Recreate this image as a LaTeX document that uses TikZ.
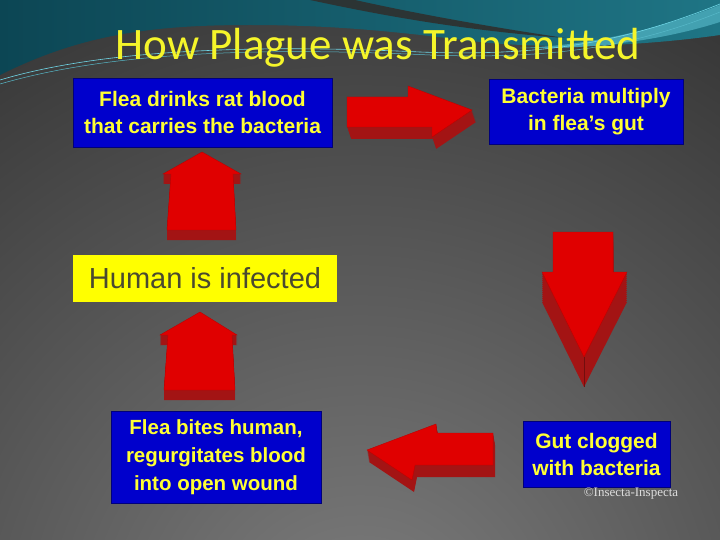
\documentclass[tikz,border=0pt]{standalone}
\usepackage{fontspec}
\setmainfont{Liberation Sans}
\newfontfamily\titlefont{Carlito}
\newfontfamily\credfont{Liberation Serif}
\definecolor{boxblue}{HTML}{0000CC}
\definecolor{txtyellow}{HTML}{FFFF33}
\definecolor{titleyellow}{HTML}{F5F52A}
\definecolor{boxyellow}{HTML}{FFFF00}
\definecolor{humantext}{HTML}{4A4A30}
\definecolor{arrowred}{HTML}{E00000}
\definecolor{arrowdark}{HTML}{A31414}
\definecolor{bgdark}{HTML}{383838}
\definecolor{bglight}{HTML}{7E7E7E}
\definecolor{tealL}{HTML}{0C4654}
\definecolor{tealR}{HTML}{1F7585}
\definecolor{cyanline}{HTML}{6FD6E6}
\definecolor{swoosh}{HTML}{2C3434}
\definecolor{credgray}{HTML}{DDDDDD}
\tikzset{
  bluebox/.style={fill=boxblue, draw=boxblue!60!black, line width=0.6pt, inner sep=0pt,
    text=txtyellow, font=\bfseries\fontsize{21}{27}\selectfont, align=center},
  yellowbox/.style={fill=boxyellow, inner sep=0pt, text=humantext,
    font=\fontsize{29}{34}\selectfont},
  arrowtop/.style={fill=arrowred, draw=arrowred!85!black, line width=0.4pt},
  arrowside/.style={fill=arrowdark},
}
\begin{document}
\begin{tikzpicture}[x=1pt,y=-1pt]
\useasboundingbox (0,0) rectangle (720,540);
% background
\begin{scope}
  \clip (0,0) rectangle (720,540);
  \fill[bgdark] (0,0) rectangle (720,540);
  \shade[inner color=bglight, outer color=bgdark] (360,640) circle (700);
  % teal top region
  \shade[left color=tealL, right color=tealR]
    (0,0) -- (0,75) .. controls (80,35) and (150,25) .. (250,25)
    .. controls (350,25) and (420,35) .. (480,42)
    .. controls (560,50) and (650,45) .. (720,35) -- (720,0) -- cycle;
  % bright band top right
  \fill[cyanline!45!tealR]
    (520,48) .. controls (600,45) and (670,25) .. (720,5) -- (720,22)
    .. controls (670,38) and (600,50) .. (520,48) -- cycle;
  % dark swoosh
  \fill[swoosh] (310,0) .. controls (380,15) and (460,30) .. (565,38)
    .. controls (470,24) and (400,10) .. (355,0) -- cycle;
  % thin cyan lines
  \draw[cyanline, line width=0.6pt] (0,80) .. controls (100,50) and (250,44) .. (420,52)
    .. controls (550,57) and (630,40) .. (720,4);
  \draw[cyanline!70!tealR, line width=0.5pt] (0,84) .. controls (110,52) and (260,47) .. (430,55)
    .. controls (560,60) and (640,44) .. (720,12);
\end{scope}

% title
\node[font=\titlefont\fontsize{45}{54}\selectfont, text=titleyellow, anchor=base]
  (title) at (378,60) {How Plague was Transmitted};

% boxes
\node[bluebox, minimum width=259pt, minimum height=69pt] (b1) at (202.5,112.5)
  {Flea drinks rat blood\\that carries the bacteria};
\node[bluebox, minimum width=194pt, minimum height=65pt] (b2) at (586,111.5)
  {Bacteria multiply\\in flea’s gut};
\node[yellowbox, minimum width=264pt, minimum height=47pt] (b3) at (205,278.5)
  {Human is infected};
\node[bluebox, minimum width=210pt, minimum height=92pt, font=\bfseries\fontsize{20.5}{28}\selectfont] (b4) at (216,457)
  {Flea bites human,\\regurgitates blood\\into open wound};
\node[bluebox, minimum width=147pt, minimum height=66pt] (b5) at (596.5,454)
  {Gut clogged\\with bacteria};
\node[font=\credfont\fontsize{13}{14}\selectfont, text=credgray] (cred) at (631,494)
  {©Insecta-Inspecta};

% right arrow (top)
\foreach \s in {1,...,12}{
  \begin{scope}[shift={(\s/3,\s)}]
    \fill[arrowside] (347,97) -- (408,97) -- (408,86) -- (472,110) -- (432,137) -- (432,127) -- (347,127) -- cycle;
  \end{scope}}
\filldraw[arrowtop] (347,97) -- (408,97) -- (408,86) -- (472,110) -- (432,137) -- (432,127) -- (347,127) -- cycle;

% up arrow 1
\foreach \s in {1,...,10}{
  \begin{scope}[shift={(0,\s)}]
    \fill[arrowside] (202,152) -- (241,174) -- (233,174) -- (236,230) -- (167,230) -- (171,174) -- (163,174) -- cycle;
  \end{scope}}
\filldraw[arrowtop] (202,152) -- (241,174) -- (233,174) -- (236,230) -- (167,230) -- (171,174) -- (163,174) -- cycle;

% up arrow 2
\foreach \s in {1,...,10}{
  \begin{scope}[shift={(0,\s)}]
    \fill[arrowside] (200,312) -- (237,335) -- (232,335) -- (235,390) -- (164,390) -- (168,335) -- (160,335) -- cycle;
  \end{scope}}
\filldraw[arrowtop] (200,312) -- (237,335) -- (232,335) -- (235,390) -- (164,390) -- (168,335) -- (160,335) -- cycle;

% down arrow
\foreach \s in {2,4,...,30}{
  \begin{scope}[shift={(0,\s)}]
    \fill[arrowside] (553,232) -- (613,232) -- (613,272) -- (627,272) -- (584,357) -- (542,272) -- (553,272) -- cycle;
  \end{scope}}
\filldraw[arrowtop] (553,232) -- (613,232) -- (613,272) -- (627,272) -- (584,357) -- (542,272) -- (553,272) -- cycle;
\draw[arrowdark!70!black, line width=0.4pt] (584,357) -- (584,387);

% left arrow (bottom)
\foreach \s in {1,...,12}{
  \begin{scope}[shift={(\s/6,\s)}]
    \fill[arrowside] (367,450) -- (436,424) -- (437,433) -- (493,433) -- (493,465) -- (415,465) -- (412,480) -- cycle;
  \end{scope}}
\filldraw[arrowtop] (367,450) -- (436,424) -- (437,433) -- (493,433) -- (493,465) -- (415,465) -- (412,480) -- cycle;
\end{tikzpicture}
\end{document}
